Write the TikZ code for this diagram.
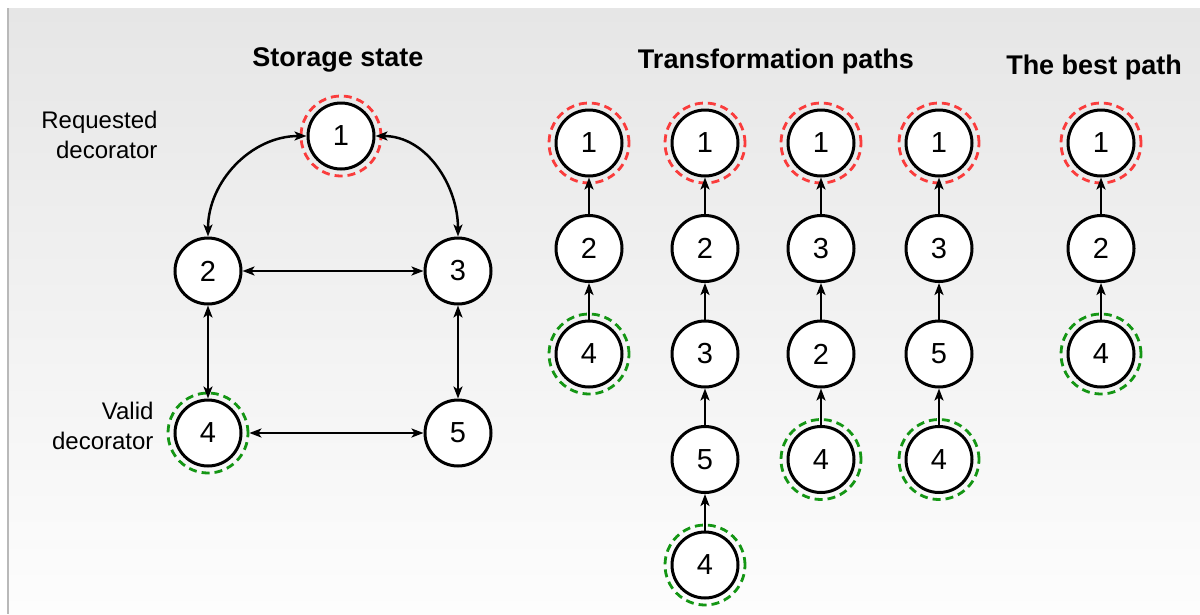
\documentclass[tikz,border=0pt]{standalone}
\usepackage{fontspec}
\setmainfont{Liberation Sans}
\usetikzlibrary{arrows.meta}
\definecolor{bgtop}{RGB}{230,230,230}
\definecolor{bgbot}{RGB}{253,253,253}
\definecolor{reqred}{RGB}{250,60,60}
\definecolor{validgreen}{RGB}{20,150,20}
\tikzset{
  vtx/.style={circle, draw, line width=3pt, fill=white, minimum size=66pt, inner sep=0pt, font=\fontsize{29}{32}\selectfont},
  reqring/.style={circle, draw=reqred, line width=2.8pt, dash pattern=on 8pt off 5pt, minimum size=80pt, inner sep=0pt},
  validring/.style={reqring, draw=validgreen},
  edge/.style={line width=2.5pt, -{Stealth[length=12pt,width=9pt,inset=3pt]}},
  biedge/.style={line width=2.5pt, {Stealth[length=12pt,width=9pt,inset=3pt]}-{Stealth[length=12pt,width=9pt,inset=3pt]}},
  title/.style={font=\bfseries\fontsize{27}{30}\selectfont},
  note/.style={align=right, anchor=east, font=\fontsize{24}{30}\selectfont}
}
\begin{document}
\begin{tikzpicture}[x=1pt,y=-1pt]
\useasboundingbox (0,0) rectangle (1200,614);
% backdrop
\fill[top color=bgtop, bottom color=bgbot] (8,8) rectangle (1200,614);
\draw[gray!55, line width=1.5pt] (8,8) -- (8,614);

% titles
\node[title] (tstore) at (338,60) {Storage state};
\node[title] (tpaths) at (776,62) {Transformation paths};
\node[title] (tbest) at (1094,68) {The best path};

% storage state
\node[note] (nreq) at (161,135) {Requested\\decorator};
\node[note] (nvalid) at (157,426) {Valid\\decorator};
\node[vtx] (s1) at (341,136) {1};
\node[vtx] (s2) at (208,271) {2};
\node[vtx] (s3) at (458,271) {3};
\node[vtx] (s4) at (208,433) {4};
\node[vtx] (s5) at (458,433) {5};
\node[reqring] (r1) at (s1.center) {};
\node[validring] (r4) at (s4.center) {};
\draw[biedge] (s1.west) to[out=180,in=90] (s2.north);
\draw[biedge] (s1.east) to[out=0,in=90] (s3.north);
\draw[biedge] (s2) -- (s3);
\draw[biedge] (s2) -- (s4);
\draw[biedge] (s3) -- (s5);
\draw[biedge] (r4.east) -- (s5);

% transformation paths
\foreach \lbl [count=\i] in {1,2,4}
  \node[vtx] (a\i) at (589,{143+105.5*(\i-1)}) {\lbl};
\foreach \lbl [count=\i] in {1,2,3,5,4}
  \node[vtx] (b\i) at (705,{143+105.5*(\i-1)}) {\lbl};
\foreach \lbl [count=\i] in {1,3,2,4}
  \node[vtx] (c\i) at (821,{143+105.5*(\i-1)}) {\lbl};
\foreach \lbl [count=\i] in {1,3,5,4}
  \node[vtx] (d\i) at (939,{143+105.5*(\i-1)}) {\lbl};
% best path
\foreach \lbl [count=\i] in {1,2,4}
  \node[vtx] (e\i) at (1101,{143+105.5*(\i-1)}) {\lbl};

\foreach \col in {a,b,c,d,e}
  \node[reqring] at (\col1.center) {};
\node[validring] at (a3.center) {};
\node[validring] at (b5.center) {};
\node[validring] at (c4.center) {};
\node[validring] at (d4.center) {};
\node[validring] at (e3.center) {};

\draw[edge] (a2) -- (a1);
\draw[edge] (a3) -- (a2);
\draw[edge] (b2) -- (b1);
\draw[edge] (b3) -- (b2);
\draw[edge] (b4) -- (b3);
\draw[edge] (b5) -- (b4);
\draw[edge] (c2) -- (c1);
\draw[edge] (c3) -- (c2);
\draw[edge] (c4) -- (c3);
\draw[edge] (d2) -- (d1);
\draw[edge] (d3) -- (d2);
\draw[edge] (d4) -- (d3);
\draw[edge] (e2) -- (e1);
\draw[edge] (e3) -- (e2);
\end{tikzpicture}
\end{document}
